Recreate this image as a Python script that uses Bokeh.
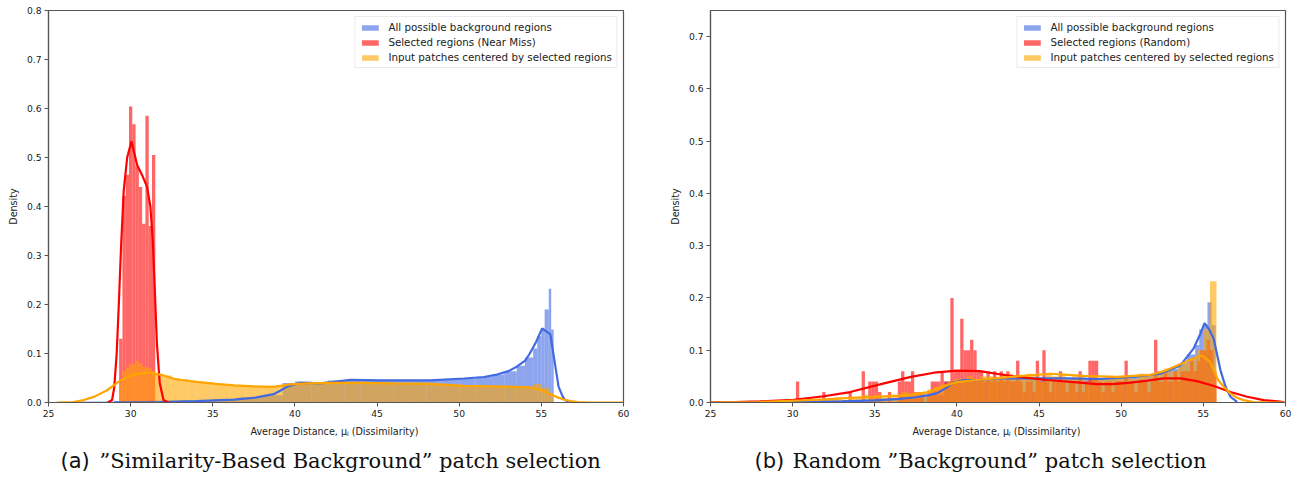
import numpy as np
from bokeh.plotting import figure
from bokeh.layouts import row, column
from bokeh.models import (Label, Legend, LegendItem, FixedTicker,
                          NumeralTickFormatter, Range1d)
from bokeh.embed import file_html
from bokeh.resources import INLINE

# ---------------- data ----------------
legend_labels_a = ["All possible background regions",
                   "Selected regions (Near Miss)",
                   "Input patches centered by selected regions"]
legend_labels_b = ["All possible background regions",
                   "Selected regions (Random)",
                   "Input patches centered by selected regions"]
x_ticks = [25, 30, 35, 40, 45, 50, 55, 60]
y_ticks_a = [0.0, 0.1, 0.2, 0.3, 0.4, 0.5, 0.6, 0.7, 0.8]
y_ticks_b = [0.0, 0.1, 0.2, 0.3, 0.4, 0.5, 0.6, 0.7]
x_label = "Average Distance,  μⱼ (Dissimilarity)"
y_label = "Density"
caption_a = "”Similarity-Based Background” patch selection"
caption_b = "Random ”Background” patch selection"

# --- panel (a) histograms ---
blue_a_edges = [25.5, 27, 29, 31, 33, 35, 36.5, 38, 39.25, 40, 41, 42, 43, 44, 45, 46,
                47, 48, 49, 50, 51, 52, 52.75, 53.5, 54, 54.5, 54.75, 55.0, 55.2, 55.45,
                55.6, 55.75]
blue_a_heights = [0.001, 0.002, 0.003, 0.004, 0.005, 0.007, 0.010, 0.015, 0.040, 0.043,
                  0.042, 0.045, 0.046, 0.045, 0.045, 0.044, 0.045, 0.046, 0.047, 0.049,
                  0.052, 0.057, 0.064, 0.075, 0.092, 0.110, 0.135, 0.150, 0.190, 0.232,
                  0.149]
red_a_edges = [29.3, 29.5, 29.7, 29.9, 30.1, 30.3, 30.5, 30.7, 30.9, 31.1, 31.3, 31.5]
red_a_heights = [0.13, 0.422, 0.465, 0.604, 0.568, 0.482, 0.44, 0.365, 0.585, 0.36, 0.505]
orange_a_edges = [29.3, 29.5, 29.7, 29.9, 30.1, 30.3, 30.5, 30.7, 30.9, 31.1, 31.3, 31.5,
                  32, 32.5, 33, 33.5, 34, 35, 36, 37, 38, 39, 40, 41, 42, 43, 44, 45, 46,
                  47, 48, 49, 50, 51, 52, 53, 54, 54.5, 55, 55.5, 55.7]
orange_a_heights = [0.04, 0.065, 0.072, 0.08, 0.078, 0.085, 0.08, 0.073, 0.072, 0.07,
                    0.065, 0.058, 0.055, 0.05, 0.048, 0.045, 0.042, 0.038, 0.035, 0.033,
                    0.032, 0.035, 0.038, 0.040, 0.040, 0.039, 0.040, 0.039, 0.040, 0.039,
                    0.038, 0.036, 0.035, 0.034, 0.034, 0.033, 0.033, 0.038, 0.030, 0.020]

# --- panel (a) KDE curves ---
blue_a_kde_x = [29.0, 31.8, 34.0, 36.3, 37.6, 38.7, 39.1, 39.5, 40.3, 41.55, 43.4, 45.2,
                48.25, 50.3, 51.5, 52.3, 53.0, 53.5, 54.0, 54.3, 54.7, 55.05, 55.3, 55.55,
                55.8, 56.05, 56.3, 56.45, 56.7]
blue_a_kde_y = [0.0, 0.001, 0.003, 0.006, 0.010, 0.017, 0.024, 0.032, 0.040, 0.039, 0.046,
                0.045, 0.045, 0.049, 0.052, 0.057, 0.064, 0.073, 0.085, 0.100, 0.125, 0.151,
                0.145, 0.139, 0.085, 0.032, 0.012, 0.005, 0.0]
red_a_kde_x = [28.6, 28.87, 29.0, 29.15, 29.28, 29.42, 29.58, 29.79, 30.05, 30.4, 30.7,
               31.0, 31.2, 31.35, 31.47, 31.6, 31.77, 32.0, 32.3]
red_a_kde_y = [0.0, 0.005, 0.03, 0.10, 0.20, 0.32, 0.433, 0.50, 0.533, 0.484, 0.464, 0.44,
               0.40, 0.33, 0.23, 0.12, 0.04, 0.005, 0.0]
orange_a_kde_x = [25.5, 26.5, 27.15, 27.8, 28.57, 29.38, 30.2, 31.0, 31.8, 32.8, 34.0,
                  35.2, 36.3, 37.5, 38.7, 39.7, 40.8, 42.2, 44, 46, 48.25, 50.3, 52, 53.3,
                  54.2, 54.7, 55.1, 55.55, 55.95, 56.35, 56.8, 57.2, 58, 59, 60]
orange_a_kde_y = [0.0, 0.001, 0.005, 0.012, 0.025, 0.045, 0.057, 0.061, 0.057, 0.047,
                  0.042, 0.038, 0.035, 0.033, 0.032, 0.037, 0.039, 0.040, 0.040, 0.039,
                  0.038, 0.034, 0.033, 0.032, 0.031, 0.028, 0.024, 0.017, 0.011, 0.006,
                  0.003, 0.001, 0.0, 0.0, 0.0]

# --- panel (b) histograms ---
blue_b_edges = [25.5, 27, 29, 31, 33, 35, 36.5, 38, 39.25, 40, 41, 42, 43, 44, 45, 46,
                47, 48, 49, 50, 51, 52, 52.75, 53.5, 54, 54.5, 54.75, 55.0, 55.25, 55.5,
                55.75]
blue_b_heights = [0.001, 0.002, 0.003, 0.004, 0.005, 0.007, 0.010, 0.015, 0.040, 0.043,
                  0.042, 0.045, 0.046, 0.045, 0.045, 0.044, 0.045, 0.046, 0.047, 0.049,
                  0.052, 0.057, 0.064, 0.075, 0.092, 0.110, 0.140, 0.150, 0.192, 0.148]
red_b_start, red_b_width = 30.2, 0.2
red_b_heights = [
    0.04, 0, 0, 0, 0, 0, 0, 0, 0.02, 0,
    0, 0, 0, 0, 0, 0, 0.02, 0, 0, 0,
    0.06, 0, 0.04, 0.04, 0.04, 0.02, 0, 0, 0.02, 0,
    0, 0.04, 0.06, 0.04, 0.04, 0.06, 0.02, 0.02, 0.02, 0,
    0.02, 0.04, 0.04, 0.04, 0.06, 0.04, 0.04, 0.2, 0.06, 0.06,
    0.16, 0.1, 0.1, 0.12, 0.1, 0.06, 0.06, 0.04, 0.06, 0.04,
    0.06, 0.04, 0.06, 0.04, 0.06, 0.04, 0.04, 0.08, 0.04, 0.02,
    0.04, 0.04, 0.02, 0.08, 0.04, 0.1, 0.04, 0.02, 0.04, 0.04,
    0.06, 0.04, 0.02, 0.04, 0.04, 0.02, 0.06, 0.02, 0.04, 0.08,
    0.08, 0.08, 0.04, 0.02, 0.04, 0.04, 0.02, 0.04, 0.04, 0.04,
    0.08, 0.04, 0.04, 0.02, 0.04, 0.04, 0.04, 0.02, 0.04, 0.12,
    0.04, 0.04, 0.06, 0.04, 0.04, 0.06, 0.04, 0.06, 0.06, 0.06,
    0.08, 0.06, 0.08, 0.1, 0.1, 0.12, 0.1, 0.06]
orange_b_start, orange_b_width = 30.2, 0.4
orange_b_heights = [
    0.005, 0.0, 0.005, 0.0, 0.005, 0.005, 0.01, 0.005, 0.01, 0.01,
    0.015, 0.01, 0.015, 0.01, 0.015, 0.015, 0.02, 0.015, 0.02, 0.02,
    0.025, 0.03, 0.035, 0.04, 0.045, 0.045, 0.05, 0.045, 0.05, 0.05,
    0.045, 0.05, 0.055, 0.045, 0.05, 0.055, 0.05, 0.04, 0.055, 0.05,
    0.055, 0.045, 0.05, 0.05, 0.04, 0.05, 0.045, 0.05, 0.045, 0.05,
    0.05, 0.045, 0.055, 0.05, 0.055, 0.06, 0.065, 0.06, 0.07, 0.075,
    0.085, 0.10, 0.14, 0.232]

# --- panel (b) KDE curves ---
blue_b_kde_x = [30, 33, 35, 36.5, 37.5, 38.3, 38.8, 39.3, 39.8, 40.4, 41.2, 42.65, 44.5,
                46.7, 48.7, 50.76, 52.4, 53.6, 54.4, 54.8, 55.07, 55.35, 55.63, 56.04,
                56.35, 56.65, 57.05]
blue_b_kde_y = [0.001, 0.002, 0.004, 0.007, 0.010, 0.014, 0.018, 0.027, 0.038, 0.043,
                0.043, 0.046, 0.046, 0.046, 0.045, 0.049, 0.055, 0.071, 0.103, 0.130,
                0.152, 0.140, 0.122, 0.062, 0.030, 0.011, 0.001]
red_b_kde_x = [25, 26.5, 28, 30.05, 31.9, 33.5, 35.5, 37.2, 38.6, 40.0, 41.4, 42.4, 43.46,
               45.5, 47.5, 48.5, 49.5, 50.56, 51.6, 52.6, 53.6, 54.6, 55.6, 56.65, 57.66,
               58.67, 59.9]
red_b_kde_y = [0.0005, 0.001, 0.002, 0.005, 0.012, 0.020, 0.036, 0.049, 0.057, 0.061,
               0.060, 0.055, 0.050, 0.043, 0.038, 0.035, 0.035, 0.038, 0.042, 0.046,
               0.046, 0.041, 0.032, 0.020, 0.011, 0.0045, 0.001]
orange_b_kde_x = [25, 28, 30.5, 32, 33.5, 35, 36.56, 37.5, 38.2, 38.6, 39.0, 39.5, 40.0,
                  41.2, 42.65, 44, 45.7, 47.7, 49.75, 51.8, 52.6, 53.2, 53.8, 54.4, 54.9,
                  55.4, 55.9, 56.3, 56.65, 57.05, 57.45, 58.06, 59, 60]
orange_b_kde_y = [0.0, 0.001, 0.004, 0.006, 0.009, 0.011, 0.013, 0.016, 0.020, 0.024,
                  0.029, 0.034, 0.039, 0.043, 0.047, 0.051, 0.055, 0.051, 0.049, 0.053,
                  0.060, 0.068, 0.076, 0.084, 0.090, 0.078, 0.043, 0.028, 0.017, 0.009,
                  0.0045, 0.001, 0.0, 0.0]

BLUE = "#4169e1"
RED = "#ff0000"
ORANGE = "#ffa500"
AXC = "#555555"

W_A, W_B = 662, 637
MAIN_H, CAP_H = 442, 35


def edges_to_lr(edges):
    e = np.asarray(edges, dtype=float)
    return e[:-1], e[1:]


def grid_to_lr(start, width, heights):
    lefts = start + width * np.arange(len(heights))
    return lefts, lefts + width


def make_panel(width, ymax, yticks, hists, kdes, labels):
    mbr = width - 48 - 575
    p = figure(width=width, height=MAIN_H,
               x_range=Range1d(25, 60), y_range=Range1d(0, ymax),
               output_backend="svg", toolbar_location=None,
               min_border_left=48, min_border_right=mbr,
               min_border_top=10, min_border_bottom=MAIN_H - 10 - 392)
    p.grid.visible = False
    p.background_fill_color = "white"
    p.border_fill_color = "white"
    p.outline_line_color = AXC
    p.outline_line_width = 1.2

    renderers = []
    for (l, r, h), col in zip(hists, [BLUE, RED, ORANGE]):
        rr = p.quad(left=l, right=r, bottom=0, top=h, fill_color=col,
                    fill_alpha=0.6, line_color=None)
        renderers.append(rr)
    for (kx, ky), col in zip(kdes, [BLUE, RED, ORANGE]):
        p.line(kx, ky, line_color=col, line_width=2.2)

    legend = Legend(items=[LegendItem(label=lab, renderers=[rr])
                           for lab, rr in zip(labels, renderers)],
                    location="top_right")
    legend.label_text_font = "DejaVu Sans"
    legend.label_text_font_size = "10.3px"
    legend.label_text_color = "#222222"
    legend.glyph_width = 21
    legend.glyph_height = 7
    legend.label_height = 12
    legend.label_standoff = 8
    legend.spacing = 3
    legend.padding = 4
    legend.margin = 6
    legend.border_line_color = "#d8d8d8"
    legend.background_fill_alpha = 0.85
    p.add_layout(legend)

    p.xaxis.ticker = FixedTicker(ticks=x_ticks)
    p.yaxis.ticker = FixedTicker(ticks=yticks)
    p.yaxis.formatter = NumeralTickFormatter(format="0.0")
    for ax in [p.xaxis[0], p.yaxis[0]]:
        ax.axis_line_color = AXC
        ax.axis_line_width = 1.2
        ax.major_tick_line_color = AXC
        ax.major_tick_in = 0
        ax.major_tick_out = 4
        ax.minor_tick_in = 0
        ax.minor_tick_out = 0
        ax.major_label_text_font = "DejaVu Sans"
        ax.major_label_text_font_size = "9.2px"
        ax.major_label_text_color = "#222222"
        ax.major_label_standoff = 3
        ax.axis_label_text_font = "DejaVu Sans"
        ax.axis_label_text_font_size = "9.6px"
        ax.axis_label_text_font_style = "normal"
        ax.axis_label_text_color = "#222222"
    p.xaxis.axis_label = x_label
    p.xaxis.axis_label_standoff = 6
    p.yaxis.axis_label = y_label
    p.yaxis.axis_label_standoff = 5
    return p


def make_caption(width, tag, text, tag_x, text_x):
    c = figure(width=width, height=CAP_H, x_range=Range1d(0, width),
               y_range=Range1d(0, CAP_H), output_backend="svg",
               toolbar_location=None, x_axis_type=None, y_axis_type=None,
               min_border=0)
    c.grid.visible = False
    c.outline_line_color = None
    c.add_layout(Label(x=tag_x, y=17, text=tag, text_font="DejaVu Sans",
                       text_font_size="21px", text_baseline="middle",
                       text_align="left", text_color="#111111"))
    c.add_layout(Label(x=text_x, y=17, text=text, text_font="DejaVu Serif",
                       text_font_size="21px", text_baseline="middle",
                       text_align="left", text_color="#111111"))
    return c


hists_a = [(*edges_to_lr(blue_a_edges), blue_a_heights),
           (*edges_to_lr(red_a_edges), red_a_heights),
           (*edges_to_lr(orange_a_edges), orange_a_heights)]
kdes_a = [(blue_a_kde_x, blue_a_kde_y), (red_a_kde_x, red_a_kde_y),
          (orange_a_kde_x, orange_a_kde_y)]
hists_b = [(*edges_to_lr(blue_b_edges), blue_b_heights),
           (*grid_to_lr(red_b_start, red_b_width, red_b_heights), red_b_heights),
           (*grid_to_lr(orange_b_start, orange_b_width, orange_b_heights), orange_b_heights)]
kdes_b = [(blue_b_kde_x, blue_b_kde_y), (red_b_kde_x, red_b_kde_y),
          (orange_b_kde_x, orange_b_kde_y)]

pa = make_panel(W_A, 0.8, y_ticks_a, hists_a, kdes_a, legend_labels_a)
pb = make_panel(W_B, 0.75, y_ticks_b, hists_b, kdes_b, legend_labels_b)
ca = make_caption(W_A, "(a)", caption_a, 60, 99)
cb = make_caption(W_B, "(b)", caption_b, 754 - W_A, 792 - W_A)

layout = column(row(pa, pb), row(ca, cb))
open("out.html", "w").write(file_html(layout, INLINE))
